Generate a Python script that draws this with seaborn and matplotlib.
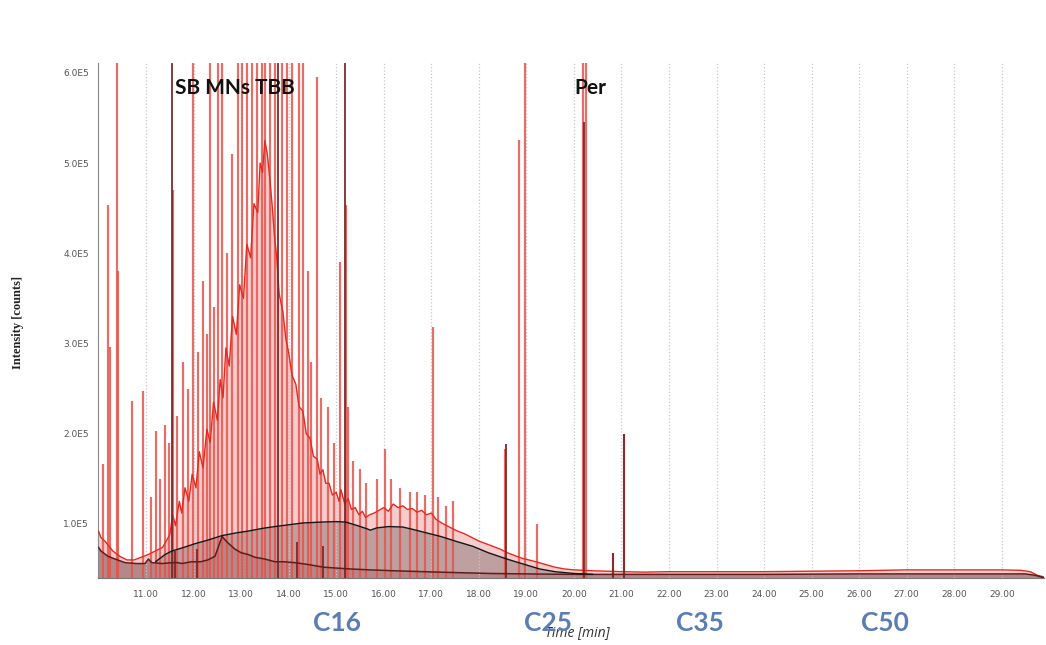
import numpy as np
import matplotlib
matplotlib.use("Agg")
import matplotlib.pyplot as plt
import seaborn as sns

E5 = 1e5

# sample trace (red), time [min] and intensity [1E5 counts]
red_t = [10.00, 10.05, 10.15, 10.30, 10.45, 10.60, 10.75, 10.90, 11.05, 11.20, 11.35, 11.50,
         11.56, 11.62, 11.70, 11.75, 11.82, 11.90, 11.97, 12.05, 12.12, 12.20, 12.28, 12.35,
         12.42, 12.50, 12.56, 12.62, 12.68, 12.75, 12.82, 12.90, 12.97, 13.05, 13.12, 13.20,
         13.27, 13.35, 13.40, 13.45, 13.50, 13.55, 13.60, 13.65, 13.70, 13.75, 13.80, 13.88,
         13.94, 14.00, 14.07, 14.15, 14.22, 14.30, 14.37, 14.45, 14.52, 14.60, 14.66, 14.72,
         14.78, 14.85, 14.92, 15.00, 15.06, 15.10, 15.18, 15.25, 15.32, 15.40, 15.48, 15.55,
         15.62, 15.70, 15.80, 15.90, 16.00, 16.10, 16.20, 16.30, 16.40, 16.50, 16.60, 16.70,
         16.80, 16.90, 17.00, 17.10, 17.25, 17.40, 17.55, 17.70, 17.85, 18.00, 18.15, 18.30,
         18.45, 18.60, 18.75, 18.90, 19.05, 19.20, 19.40, 19.60, 19.80, 20.00, 20.40, 20.70,
         21.00, 21.50, 22.00, 23.00, 24.00, 25.00, 26.00, 26.50, 27.00, 28.00, 29.00, 29.40,
         29.60, 29.75, 29.90]
red_y = [0.92, 0.85, 0.80, 0.70, 0.64, 0.60, 0.60, 0.63, 0.66, 0.70, 0.74, 0.88,
         1.10, 0.98, 1.25, 1.12, 1.40, 1.25, 1.55, 1.40, 1.80, 1.62, 2.05, 1.90,
         2.35, 2.15, 2.60, 2.40, 2.95, 2.75, 3.30, 3.10, 3.65, 3.50, 4.10, 3.95,
         4.55, 4.45, 5.00, 4.90, 5.25, 5.10, 4.85, 4.55, 4.20, 3.95, 3.55, 3.35,
         3.05, 2.90, 2.65, 2.55, 2.30, 2.25, 2.00, 1.95, 1.75, 1.72, 1.55, 1.60,
         1.45, 1.45, 1.32, 1.35, 1.25, 1.38, 1.22, 1.28, 1.16, 1.18, 1.10, 1.14,
         1.07, 1.10, 1.12, 1.15, 1.18, 1.14, 1.22, 1.18, 1.20, 1.16, 1.17, 1.13,
         1.15, 1.10, 1.12, 1.05, 1.00, 0.96, 0.92, 0.89, 0.85, 0.81, 0.78, 0.75,
         0.72, 0.68, 0.65, 0.62, 0.60, 0.58, 0.55, 0.52, 0.50, 0.49, 0.48, 0.475,
         0.47, 0.465, 0.47, 0.47, 0.47, 0.475, 0.48, 0.485, 0.49, 0.49, 0.49, 0.485,
         0.47, 0.43, 0.41]

red_peak_t = [10.10, 10.21, 10.24, 10.38, 10.42, 10.70, 10.94, 11.10, 11.22, 11.30, 11.40, 11.48,
              11.57, 11.66, 11.78, 11.88, 11.98, 12.10, 12.20, 12.28, 12.35, 12.44, 12.51, 12.59,
              12.70, 12.81, 12.94, 13.01, 13.12, 13.22, 13.34, 13.43, 13.50, 13.61, 13.71, 13.85,
              13.96, 14.06, 14.22, 14.31, 14.41, 14.48, 14.59, 14.68, 14.82, 14.95, 15.08, 15.20,
              15.24, 15.35, 15.50, 15.62, 15.85, 16.03, 16.15, 16.35, 16.55, 16.70, 16.87, 17.03,
              17.15, 17.30, 17.45, 18.55, 18.84, 18.97, 19.22, 20.19, 20.25, 20.82, 21.05]
red_peak_h = [1.66, 4.54, 2.96, 6.20, 3.80, 2.36, 2.47, 1.30, 2.03, 1.50, 2.10, 1.90,
              4.70, 2.20, 2.80, 2.50, 6.20, 2.90, 3.69, 3.10, 6.20, 3.40, 6.20, 6.20,
              4.00, 5.10, 6.20, 6.20, 6.20, 6.20, 6.20, 6.20, 6.20, 6.20, 6.20, 6.20,
              6.20, 6.20, 6.20, 6.20, 3.80, 2.80, 5.95, 2.40, 2.30, 1.90, 3.90, 4.54,
              2.30, 1.70, 1.61, 1.45, 1.50, 1.83, 1.50, 1.40, 1.35, 1.35, 1.32, 3.18,
              1.30, 1.20, 1.25, 1.83, 5.26, 6.20, 1.00, 6.20, 6.20, 0.68, 2.00]

# blank / second trace (dark)
dark_t = [10.00, 10.05, 10.20, 10.40, 10.56, 10.80, 10.98, 11.05, 11.12, 11.34, 11.55, 11.66,
          11.76, 11.95, 12.15, 12.30, 12.45, 12.60, 12.70, 12.87, 13.00, 13.15, 13.29, 13.50,
          13.71, 13.90, 14.13, 14.40, 14.73, 15.00, 15.30, 15.70, 16.20, 16.83, 17.50, 18.23,
          19.00, 20.00, 22.00, 24.00, 26.00, 28.00, 29.50, 29.70, 29.90]
dark_y = [0.74, 0.70, 0.64, 0.60, 0.57, 0.56, 0.56, 0.61, 0.57, 0.56, 0.57, 0.57,
          0.56, 0.58, 0.58, 0.60, 0.64, 0.86, 0.80, 0.72, 0.68, 0.66, 0.63, 0.61,
          0.58, 0.58, 0.57, 0.55, 0.52, 0.51, 0.50, 0.49, 0.48, 0.47, 0.46, 0.45,
          0.445, 0.44, 0.44, 0.44, 0.445, 0.445, 0.445, 0.43, 0.40]
dark_peak_t = [11.54, 11.61, 12.07, 13.77, 14.17, 14.73, 15.18, 18.57, 20.22, 20.82, 21.05]
dark_peak_h = [6.20, 0.70, 0.72, 6.20, 0.80, 0.75, 6.20, 1.88, 5.46, 0.68, 2.00]

# unresolved complex mixture hump (black curve)
ucm_t = [11.20, 11.40, 11.55, 11.80, 12.03, 12.30, 12.60, 12.90, 13.15, 13.45, 13.71, 14.00,
         14.30, 14.70, 15.00, 15.20, 15.45, 15.65, 15.72, 15.85, 16.10, 16.40, 16.60, 16.90,
         17.20, 17.50, 17.88, 18.20, 18.59, 18.90, 19.28, 19.60, 20.00, 20.40]
ucm_y = [0.58, 0.66, 0.70, 0.74, 0.78, 0.82, 0.87, 0.90, 0.92, 0.95, 0.97, 0.99,
         1.01, 1.02, 1.025, 1.02, 0.98, 0.945, 0.93, 0.955, 0.97, 0.965, 0.94, 0.90,
         0.86, 0.81, 0.75, 0.68, 0.61, 0.56, 0.50, 0.47, 0.45, 0.44]

x_ticks = list(range(11, 30))
y_ticks = [1, 2, 3, 4, 5, 6]
carbon_labels = ["C16", "C25", "C35", "C50"]
carbon_x = [0.322, 0.524, 0.669, 0.846]
peak_names = ["SB MNs TBB", "Per"]
peak_name_t = [12.87, 20.34]

y_min, y_max = 0.40, 6.11

sns.set_style("white")
plt.rcParams['font.family'] = ['DejaVu Sans']

fig = plt.figure(figsize=(10.46, 6.45), dpi=100)
ax = fig.add_axes([0.0937, 0.1039, 0.904, 0.7985])

rt = np.array(red_t)
ry = np.array(red_y) * E5
dt = np.array(dark_t)
dy = np.array(dark_y) * E5
ut = np.array(ucm_t)
uy = np.array(ucm_y) * E5

# fills
ax.fill_between(rt, y_min * E5, ry, color="#f6cccc", lw=0, zorder=1)
ax.fill_between(ut, y_min * E5, uy, color="#bfa0a0", lw=0, zorder=1.5)
ax.fill_between(dt, y_min * E5, dy, color="#b48888", lw=0, zorder=1.6)

# red peaks and trace
ax.vlines(red_peak_t, y_min * E5, np.array(red_peak_h) * E5, color="#e2554d",
          lw=1.6, alpha=0.85, zorder=3)
sns.lineplot(x=rt, y=ry, ax=ax, color="#e52b20", lw=1.0, estimator=None, sort=False, zorder=3.2)

# dark trace
ax.vlines(dark_peak_t, y_min * E5, np.array(dark_peak_h) * E5, color="#7a2626",
          lw=1.4, alpha=0.9, zorder=4)
sns.lineplot(x=dt, y=dy, ax=ax, color="#5e1c1c", lw=1.1, estimator=None, sort=False, zorder=4.2)

# ucm curve
sns.lineplot(x=ut, y=uy, ax=ax, color="#151515", lw=1.0, estimator=None, sort=False, zorder=5)

ax.set_xlim(9.99, 29.88)
ax.set_ylim(y_min * E5, y_max * E5)
ax.set_xticks(x_ticks)
ax.set_xticklabels(["%.2f" % v for v in x_ticks])
ax.set_yticks([v * E5 for v in y_ticks])
ax.set_yticklabels(["%.1fE5" % v for v in y_ticks])
ax.tick_params(axis="both", labelsize=6.5, labelcolor="#555555", length=3, width=0.8,
               color="#777777", direction="out")
ax.tick_params(axis="x", pad=6)
ax.set_axisbelow(False)
ax.grid(axis="x", color="#c8c8c8", ls=":", lw=0.9, zorder=2.5)
ax.grid(axis="y", visible=False)
for side in ["top", "right"]:
    ax.spines[side].set_visible(False)
ax.spines["left"].set_color("#888888")
ax.spines["bottom"].set_color("#777777")
ax.set_xlabel("")
ax.set_ylabel("")

fig.text(0.017, 0.50, "Intensity [counts]", rotation=90, ha="center", va="center",
         family="Liberation Serif", fontweight="bold", fontsize=9, color="#222222")
# in the reference this label sits under the C25 marker
fig.text(0.552, 0.019, "Time [min]", ha="center", va="center", style="italic",
         family="Open Sans", fontsize=10, color="#333333")

for lab, xf in zip(carbon_labels, carbon_x):
    fig.text(xf, 0.034, lab, ha="center", va="center", family="Lato", fontweight="bold",
             fontsize=19, color="#5a7db5")

for name, t in zip(peak_names, peak_name_t):
    ax.text(t, 5.83 * E5, name, ha="center", va="center", family="Lato", fontweight="bold",
            fontsize=15, color="#111111", zorder=6)

fig.savefig("out.png", dpi=100)
